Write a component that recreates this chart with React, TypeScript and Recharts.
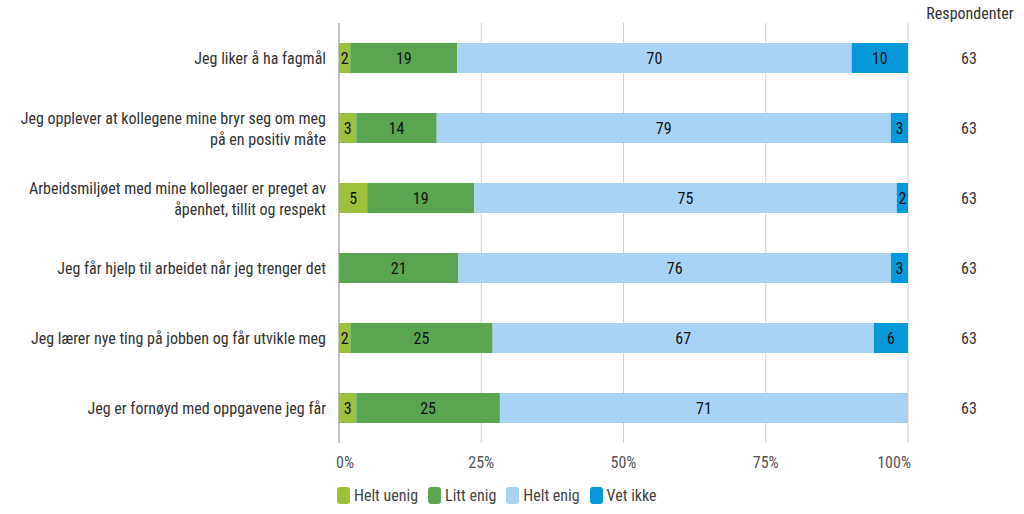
import React from "react";
import {
  Bar,
  BarChart,
  CartesianGrid,
  LabelList,
  XAxis,
  YAxis,
} from "recharts";

const questions = [
  "Jeg liker å ha fagmål",
  "Jeg opplever at kollegene mine bryr seg om meg\npå en positiv måte",
  "Arbeidsmiljøet med mine kollegaer er preget av\nåpenhet, tillit og respekt",
  "Jeg får hjelp til arbeidet når jeg trenger det",
  "Jeg lærer nye ting på jobben og får utvikle meg",
  "Jeg er fornøyd med oppgavene jeg får",
];
const heltUenig = [2, 3, 5, 0, 2, 3];
const littEnig = [19, 14, 19, 21, 25, 25];
const heltEnig = [70, 79, 75, 76, 67, 71];
const vetIkke = [10, 3, 2, 3, 6, 0];
const respondents = [63, 63, 63, 63, 63, 63];
const xTicks = [0, 0.25, 0.5, 0.75, 1];

const SERIES = [
  { key: "heltUenig", name: "Helt uenig", color: "#9fc03b" },
  { key: "littEnig", name: "Litt enig", color: "#5ba552" },
  { key: "heltEnig", name: "Helt enig", color: "#a9d3f4" },
  { key: "vetIkke", name: "Vet ikke", color: "#0798da" },
];

const FONT = "'Roboto Condensed', Roboto, sans-serif";
const FS = 16;

const data = questions.map((q, i) => ({
  question: q,
  heltUenig: heltUenig[i],
  littEnig: littEnig[i],
  heltEnig: heltEnig[i],
  vetIkke: vetIkke[i],
}));

function QuestionTick(props: any) {
  const { x, y, payload } = props;
  const lines = String(payload.value).split("\n");
  const lh = 21;
  return (
    <text
      x={x - 5}
      y={y}
      textAnchor="end"
      fill="#333"
      fontSize={FS}
      fontFamily={FONT}
    >
      {lines.map((l, i) => (
        <tspan
          key={i}
          x={x - 5}
          dy={i === 0 ? -((lines.length - 1) * lh) / 2 + 6 : lh}
        >
          {l}
        </tspan>
      ))}
    </text>
  );
}

function RespTick(props: any) {
  const { y, index } = props;
  return (
    <text
      x={969}
      y={y + 6}
      textAnchor="middle"
      fill="#333"
      fontSize={FS}
      fontFamily={FONT}
    >
      {respondents[index]}
    </text>
  );
}

function PctTick(props: any) {
  const { x, y, payload, index } = props;
  const last = index === xTicks.length - 1;
  const anchor = index === 0 ? "start" : last ? "end" : "middle";
  const dx = index === 0 ? -3 : last ? 3 : 0;
  return (
    <text
      x={x + dx}
      y={y + 17}
      textAnchor={anchor}
      fill="#555"
      fontSize={FS}
      fontFamily={FONT}
    >
      {Math.round(payload.value * 100)}%
    </text>
  );
}

function LegendBox() {
  return (
    <div
      style={{
        position: "absolute",
        left: 337,
        top: 486,
        display: "flex",
        fontFamily: FONT,
        fontSize: FS,
        color: "#444",
      }}
    >
      {SERIES.map((s) => (
        <div key={s.key} style={{ display: "flex", alignItems: "center", marginRight: 10 }}>
          <span
            style={{
              width: 13,
              height: 17,
              borderRadius: 3,
              background: s.color,
              marginRight: 4,
              display: "inline-block",
            }}
          />
          {s.name}
        </div>
      ))}
    </div>
  );
}

export default function App() {
  return (
    <div style={{ position: "absolute", left: 0, top: 0, width: 1024, height: 514, background: "#fff" }}>
      <div
        style={{
          position: "absolute",
          left: 920,
          top: 4,
          width: 100,
          textAlign: "center",
          fontFamily: FONT,
          fontSize: FS,
          color: "#333",
        }}
      >
        Respondenter
      </div>
      <BarChart
        width={1024}
        height={514}
        data={data}
        layout="vertical"
        stackOffset="expand"
        barSize={30}
        margin={{ top: 23, right: 0, bottom: 41, left: 0 }}
      >
        <CartesianGrid horizontal={false} stroke="#d0d0d0" />
        <XAxis
          type="number"
          domain={[0, 1]}
          ticks={xTicks}
          axisLine={false}
          tickLine={false}
          tick={<PctTick />}
          height={30}
        />
        <YAxis
          type="category"
          dataKey="question"
          width={339}
          axisLine={{ stroke: "#999" }}
          tickLine={false}
          tick={<QuestionTick />}
        />
        <YAxis
          yAxisId="right"
          orientation="right"
          type="category"
          dataKey="question"
          width={116}
          axisLine={false}
          tickLine={false}
          tick={<RespTick />}
        />
        {SERIES.map((s) => (
          <Bar
            key={s.key}
            dataKey={s.key}
            name={s.name}
            stackId="a"
            fill={s.color}
            isAnimationActive={false}
          >
            <LabelList
              dataKey={s.key}
              position="center"
              fill="#111"
              fontSize={FS}
              fontFamily={FONT}
              formatter={(v: any) => (v ? v : "")}
            />
          </Bar>
        ))}
      </BarChart>
      <LegendBox />
    </div>
  );
}
